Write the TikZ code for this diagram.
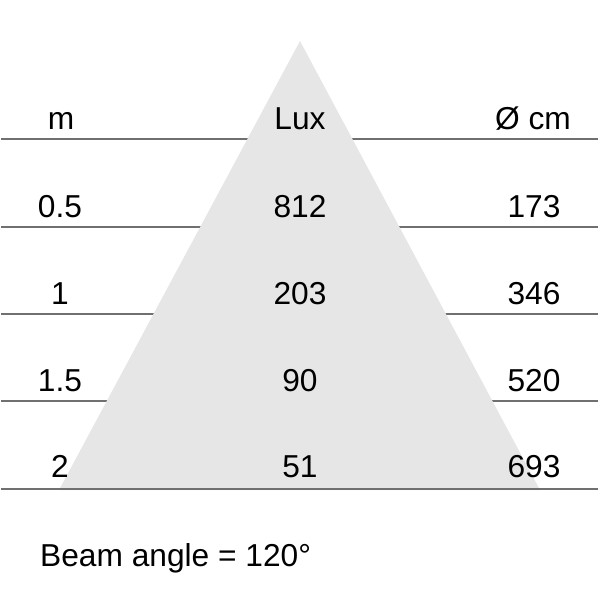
\documentclass[tikz,border=0pt]{standalone}
\usepackage{fontspec}
\setmainfont{Liberation Sans}
\definecolor{rule}{HTML}{707070}
\definecolor{beam}{HTML}{E6E6E6}
\begin{document}
\begin{tikzpicture}[x=1pt,y=-1pt,
  rowline/.style={draw=rule,line width=2pt},
  lbl/.style={anchor=base,inner sep=0pt,font=\fontsize{31.7}{36}\selectfont},
  lbll/.style={anchor=base west,inner sep=0pt,font=\fontsize{31.7}{36}\selectfont}]
\useasboundingbox (0,0) rectangle (600,592);
% row lines
\foreach \y in {139,227,314,401} \draw[rowline] (1,\y) -- (598,\y);
% beam triangle
\fill[beam] (300,41) -- (540,490) -- (59,490) -- cycle;
\draw[rowline] (1,489) -- (598,489);
% header
\node[lbl] (hm) at (61,129) {m};
\node[lbl] (hl) at (300,129) {Lux};
\node[lbl] (hd) at (533,129) {Ø cm};
% rows
\node[lbl] (m1) at (60,217) {0.5};
\node[lbl] (l1) at (300,217) {812};
\node[lbl] (d1) at (534,217) {173};
\node[lbl] (m2) at (60,304) {1};
\node[lbl] (l2) at (300,304) {203};
\node[lbl] (d2) at (534,304) {346};
\node[lbl] (m3) at (60,391) {1.5};
\node[lbl] (l3) at (300,391) {90};
\node[lbl] (d3) at (534,391) {520};
\node[lbl] (m4) at (60,477) {2};
\node[lbl] (l4) at (300,477) {51};
\node[lbl] (d4) at (534,477) {693};
\node[lbll] (ba) at (40,566) {Beam angle = 120°};
\end{tikzpicture}
\end{document}
